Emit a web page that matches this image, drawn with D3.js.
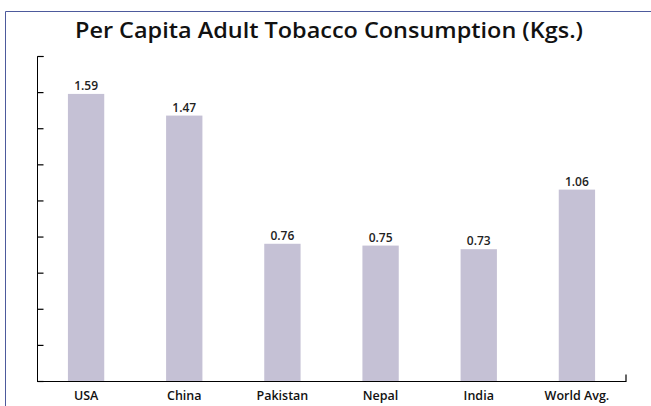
<!DOCTYPE html>
<html>
<head>
<meta charset="utf-8">
<script src="https://cdn.jsdelivr.net/npm/d3@7"></script>
<style>
  body { margin: 0; background: #fff; }
  svg { display: block; }
</style>
</head>
<body>
<div id="chart"></div>
<script>
const countries = ['USA', 'China', 'Pakistan', 'Nepal', 'India', 'World Avg.'];
const consumption = [1.59, 1.47, 0.76, 0.75, 0.73, 1.06];
const yTicks = [0, 0.2, 0.4, 0.6, 0.8, 1.0, 1.2, 1.4, 1.6, 1.8];

const width = 651;
const height = 406;
const margin = { top: 56, right: 25, bottom: 25, left: 37 };
const font = 'Open Sans, Liberation Sans, sans-serif';

const svg = d3.select('#chart')
  .append('svg')
  .attr('width', width)
  .attr('height', height);

// frame (top + left edges only visible)
svg.append('path')
  .attr('d', `M5.5,${height} V11.5 H${width}`)
  .attr('fill', 'none')
  .attr('stroke', '#4d5a9c')
  .attr('stroke-width', 1);

svg.append('text')
  .attr('x', 329)
  .attr('y', 38)
  .attr('text-anchor', 'middle')
  .attr('font-family', font)
  .attr('font-weight', 600)
  .attr('font-size', 22)
  .attr('textLength', 508)
  .attr('lengthAdjust', 'spacingAndGlyphs')
  .attr('fill', '#111')
  .text('Per Capita Adult Tobacco Consumption (Kgs.)');

const x = d3.scaleBand()
  .domain(countries)
  .range([margin.left, width - margin.right])
  .paddingInner(0.63)
  .paddingOuter(0.315);

const y = d3.scaleLinear()
  .domain([0, 1.8])
  .range([height - margin.bottom, margin.top]);

const data = countries.map((c, i) => ({ name: c, value: consumption[i] }));

svg.append('g')
  .attr('fill', '#c5c1d5')
  .selectAll('rect')
  .data(data)
  .join('rect')
    .attr('x', d => x(d.name))
    .attr('y', d => y(d.value))
    .attr('width', x.bandwidth())
    .attr('height', d => y(0) - y(d.value));

svg.append('g')
  .attr('font-family', font)
  .attr('font-weight', 600)
  .attr('font-size', 12)
  .attr('fill', '#222')
  .attr('text-anchor', 'middle')
  .selectAll('text')
  .data(data)
  .join('text')
    .attr('x', d => x(d.name) + x.bandwidth() / 2)
    .attr('y', d => y(d.value) - 4)
    .text(d => d.value.toFixed(2));

// y axis: ticks pointing inward, no labels
const yAxis = g => g
  .attr('transform', `translate(${margin.left + 0.5},0)`)
  .call(d3.axisRight(y).tickValues(yTicks).tickSize(6).tickFormat(''))
  .call(g => g.select('.domain').attr('d', `M6,${y(1.8) + 0.5}H0V${y(0) + 0.5}`))
  .call(g => g.selectAll('.tick line').attr('stroke-width', 1.2));

svg.append('g').call(yAxis);

// x axis line with small end tick
const xAxis = g => g
  .attr('transform', `translate(0,${y(0) + 0.5})`)
  .call(d3.axisBottom(x).tickSize(0).tickPadding(10))
  .call(g => g.select('.domain').attr('d', `M${margin.left},0H${width - margin.right}V-7`).attr('stroke-width', 1.2))
  .attr('font-family', font)
  .attr('font-weight', 600)
  .attr('font-size', 12.5)
  .call(g => g.selectAll('.tick text').attr('fill', '#111'));

svg.append('g').call(xAxis);
</script>
</body>
</html>
